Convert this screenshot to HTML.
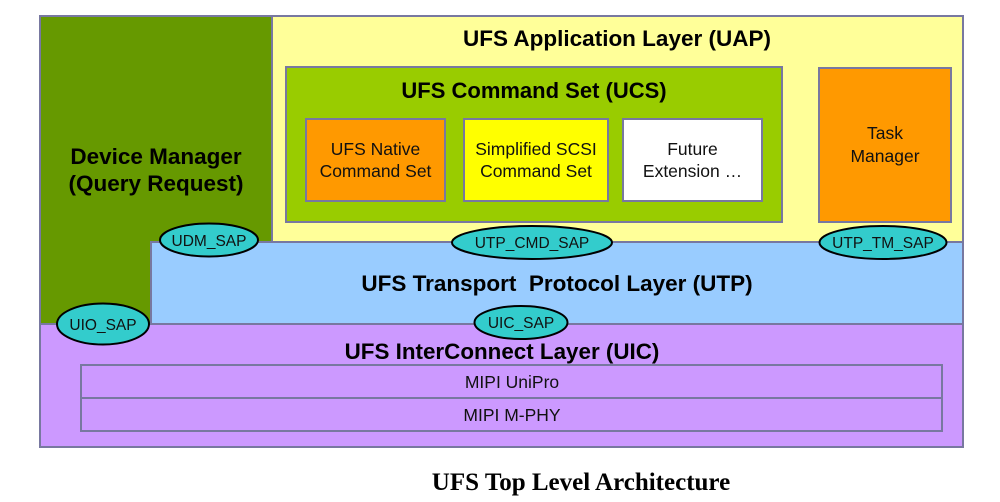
<!DOCTYPE html>
<html>
<head>
<meta charset="utf-8">
<style>
  html, body { margin: 0; padding: 0; background: #ffffff; }
  body { width: 1000px; height: 502px; overflow: hidden; }
  svg { display: block; }
  .b { font-family: "Liberation Sans", Arial, sans-serif; font-weight: bold; fill: #000; }
  .r { font-family: "Liberation Sans", Arial, sans-serif; fill: #111; }
  .t { font-family: "Liberation Serif", "Times New Roman", serif; font-weight: bold; fill: #000; }
</style>
</head>
<body>
<svg width="1000" height="502" viewBox="0 0 1000 502" xmlns="http://www.w3.org/2000/svg">
  <rect x="0" y="0" width="1000" height="502" fill="#ffffff"/>

  <!-- UAP yellow -->
  <rect x="272" y="16" width="691" height="226" fill="#ffff99" stroke="#7878a0" stroke-width="2"/>
  <!-- Device Manager green -->
  <polygon points="40,16 272,16 272,242 151,242 151,324 40,324" fill="#669900" stroke="#7878a0" stroke-width="2"/>
  <!-- UTP blue -->
  <rect x="151" y="242" width="812" height="82" fill="#99ccff" stroke="#7878a0" stroke-width="2"/>
  <!-- UIC purple -->
  <rect x="40" y="324" width="923" height="123" fill="#cc99ff" stroke="#7878a0" stroke-width="2"/>

  <!-- UCS -->
  <rect x="286" y="67" width="496" height="155" fill="#99cc00" stroke="#7878a0" stroke-width="2"/>
  <rect x="306" y="119" width="139" height="82" fill="#ff9900" stroke="#7878a0" stroke-width="2"/>
  <rect x="464" y="119" width="144" height="82" fill="#ffff00" stroke="#7878a0" stroke-width="2"/>
  <rect x="623" y="119" width="139" height="82" fill="#ffffff" stroke="#7878a0" stroke-width="2"/>

  <!-- Task Manager -->
  <rect x="819" y="68" width="132" height="154" fill="#ff9900" stroke="#7878a0" stroke-width="2"/>

  <!-- MIPI rows -->
  <rect x="81" y="365" width="861" height="33" fill="#cc99ff" stroke="#7878a0" stroke-width="2"/>
  <rect x="81" y="398" width="861" height="33" fill="#cc99ff" stroke="#7878a0" stroke-width="2"/>

  <!-- Titles -->
  <text class="b" x="617" y="46" font-size="22.5" text-anchor="middle">UFS Application Layer (UAP)</text>
  <text class="b" x="534" y="98" font-size="22" text-anchor="middle">UFS Command Set (UCS)</text>
  <text class="b" x="156" y="164" font-size="22.5" text-anchor="middle">Device Manager</text>
  <text class="b" x="156" y="191" font-size="22.5" text-anchor="middle">(Query Request)</text>
  <text class="b" x="557" y="291" font-size="22.5" text-anchor="middle" xml:space="preserve">UFS Transport  Protocol Layer (UTP)</text>
  <text class="b" x="502" y="359" font-size="22.4" text-anchor="middle">UFS InterConnect Layer (UIC)</text>

  <!-- Inner box labels -->
  <text class="r" x="375.5" y="155" font-size="17.5" text-anchor="middle">UFS Native</text>
  <text class="r" x="375.5" y="177" font-size="17.5" text-anchor="middle">Command Set</text>
  <text class="r" x="536" y="155" font-size="17.5" text-anchor="middle">Simplified SCSI</text>
  <text class="r" x="536" y="177" font-size="17.5" text-anchor="middle">Command Set</text>
  <text class="r" x="692.5" y="155" font-size="17.5" text-anchor="middle">Future</text>
  <text class="r" x="692.5" y="177" font-size="17.5" text-anchor="middle">Extension …</text>
  <text class="r" x="885" y="139" font-size="17.5" text-anchor="middle">Task</text>
  <text class="r" x="885" y="162" font-size="17.5" text-anchor="middle">Manager</text>

  <text class="r" x="512" y="388" font-size="17.5" text-anchor="middle">MIPI UniPro</text>
  <text class="r" x="512" y="421" font-size="17.5" text-anchor="middle">MIPI M-PHY</text>

  <!-- SAP ellipses -->
  <ellipse cx="209" cy="240" rx="49" ry="16.5" fill="#33cccc" stroke="#000" stroke-width="2"/>
  <text class="r" x="209" y="246" font-size="15.5" text-anchor="middle">UDM_SAP</text>

  <ellipse cx="532" cy="242.5" rx="80" ry="16.5" fill="#33cccc" stroke="#000" stroke-width="2"/>
  <text class="r" x="532" y="248" font-size="15.5" text-anchor="middle">UTP_CMD_SAP</text>

  <ellipse cx="883" cy="242.5" rx="63.5" ry="16.5" fill="#33cccc" stroke="#000" stroke-width="2"/>
  <text class="r" x="883" y="248" font-size="15.5" text-anchor="middle">UTP_TM_SAP</text>

  <ellipse cx="103" cy="324" rx="46" ry="20.5" fill="#33cccc" stroke="#000" stroke-width="2"/>
  <text class="r" x="103" y="330" font-size="15.5" text-anchor="middle">UIO_SAP</text>

  <ellipse cx="521" cy="322.5" rx="46.5" ry="16.5" fill="#33cccc" stroke="#000" stroke-width="2"/>
  <text class="r" x="521" y="328" font-size="15.5" text-anchor="middle">UIC_SAP</text>

  <!-- Caption -->
  <text class="t" x="581" y="490" font-size="25" text-anchor="middle">UFS Top Level Architecture</text>
</svg>
</body>
</html>
